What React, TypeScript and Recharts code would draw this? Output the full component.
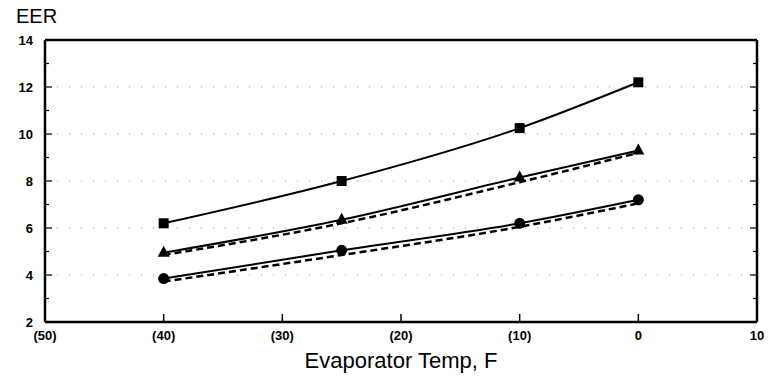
import React from "react";
import {
  LineChart,
  Line,
  XAxis,
  YAxis,
  CartesianGrid,
  ReferenceLine,
} from "recharts";

// evaporator temperature, F
const temps = [-40, -25, -10, 0];
// EER readings per curve
const squareSeries = [6.2, 8.0, 10.25, 12.2];
const triangleSeries = [4.95, 6.35, 8.15, 9.3];
const triangleDashed = [4.85, 6.2, 7.95, 9.2];
const circleSeries = [3.85, 5.05, 6.2, 7.2];
const circleDashed = [3.72, 4.85, 6.05, 7.05];

const xTicks = [-50, -40, -30, -20, -10, 0, 10];
const yTicks = [2, 3, 4, 5, 6, 7, 8, 9, 10, 11, 12, 13, 14];

const rows = temps.map((t, i) => ({
  t,
  sq: squareSeries[i],
  tri: triangleSeries[i],
  triD: triangleDashed[i],
  circ: circleSeries[i],
  circD: circleDashed[i],
}));

const W = 771;
const H = 379;
const PLOT_LEFT = 45;
const PLOT_RIGHT = 757;
const PLOT_TOP = 40;
const PLOT_BOTTOM = 322;
const FONT = "'Liberation Sans', Arial, sans-serif";

const fmtTemp = (v: number) => (v < 0 ? `(${Math.abs(v)})` : `${v}`);

const XTick = ({ x, payload }: any) => (
  <g>
    <line x1={x} x2={x} y1={PLOT_BOTTOM} y2={PLOT_BOTTOM - 8} stroke="#000" strokeWidth={1.5} />
    <text
      x={x}
      y={PLOT_BOTTOM + 18}
      textAnchor="middle"
      fontSize={13}
      fontFamily={FONT}
      fontWeight="bold"
      fill="#000"
    >
      {fmtTemp(payload.value)}
    </text>
  </g>
);

const YTick = ({ y, payload }: any) => {
  const major = payload.value % 2 === 0;
  const len = major ? 7 : 4;
  return (
    <g>
      <line x1={PLOT_LEFT} x2={PLOT_LEFT + len} y1={y} y2={y} stroke="#000" strokeWidth={1.2} />
      <line x1={PLOT_RIGHT - len} x2={PLOT_RIGHT} y1={y} y2={y} stroke="#000" strokeWidth={1.2} />
      {major && (
        <text
          x={33}
          y={y + 4.5}
          textAnchor="end"
          fontSize={13}
          fontFamily={FONT}
          fontWeight="bold"
          fill="#000"
        >
          {payload.value}
        </text>
      )}
    </g>
  );
};

const Square = ({ cx, cy }: any) => (
  <rect x={cx - 5} y={cy - 5} width={10} height={10} fill="#000" />
);
const Triangle = ({ cx, cy }: any) => (
  <path d={`M${cx},${cy - 7} L${cx + 6},${cy + 4} L${cx - 6},${cy + 4} Z`} fill="#000" />
);
const Circle = ({ cx, cy }: any) => <circle cx={cx} cy={cy} r={5.5} fill="#000" />;

export default function App() {
  return (
    <div
      style={{
        position: "absolute",
        left: 0,
        top: 0,
        width: W,
        height: H,
        background: "#fff",
        fontFamily: FONT,
      }}
    >
      <div
        style={{
          position: "absolute",
          left: 16,
          top: 6,
          fontSize: 20,
          color: "#000",
          lineHeight: "20px",
        }}
      >
        EER
      </div>
      <div
        style={{
          position: "absolute",
          left: PLOT_LEFT,
          width: PLOT_RIGHT - PLOT_LEFT,
          top: 350,
          textAlign: "center",
          fontSize: 22,
          color: "#000",
          lineHeight: "22px",
        }}
      >
        Evaporator Temp, F
      </div>
      <LineChart
        width={W}
        height={H}
        data={rows}
        margin={{ top: PLOT_TOP, right: W - PLOT_RIGHT, bottom: 0, left: 0 }}
      >
        <CartesianGrid
          vertical={false}
          horizontalValues={[4, 6, 8, 10, 12]}
          stroke="#000"
          strokeOpacity={0.45}
          strokeDasharray="1 11"
        />
        <XAxis
          dataKey="t"
          type="number"
          domain={[-50, 10]}
          ticks={xTicks}
          height={H - PLOT_BOTTOM}
          tick={<XTick />}
          tickLine={false}
          axisLine={{ stroke: "#000", strokeWidth: 2.5 }}
          interval={0}
        />
        <YAxis
          type="number"
          domain={[2, 14]}
          ticks={yTicks}
          width={PLOT_LEFT}
          tick={<YTick />}
          tickLine={false}
          axisLine={{ stroke: "#000", strokeWidth: 2.5 }}
          interval={0}
        />
        <ReferenceLine y={14} stroke="#000" strokeWidth={2.5} />
        <ReferenceLine x={10} stroke="#000" strokeWidth={2.5} />
        <Line
          dataKey="triD"
          type="monotone"
          stroke="#000"
          strokeWidth={2.5}
          strokeDasharray="7 4"
          dot={false}
          isAnimationActive={false}
        />
        <Line
          dataKey="circD"
          type="monotone"
          stroke="#000"
          strokeWidth={2.5}
          strokeDasharray="7 4"
          dot={false}
          isAnimationActive={false}
        />
        <Line
          dataKey="sq"
          type="monotone"
          stroke="#000"
          strokeWidth={2}
          dot={<Square />}
          isAnimationActive={false}
        />
        <Line
          dataKey="tri"
          type="monotone"
          stroke="#000"
          strokeWidth={2}
          dot={<Triangle />}
          isAnimationActive={false}
        />
        <Line
          dataKey="circ"
          type="monotone"
          stroke="#000"
          strokeWidth={2}
          dot={<Circle />}
          isAnimationActive={false}
        />
      </LineChart>
    </div>
  );
}
